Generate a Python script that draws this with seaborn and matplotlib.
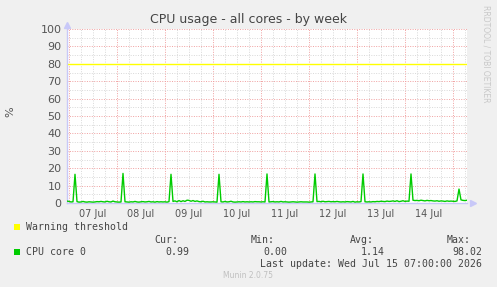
import numpy as np
import pandas as pd
import matplotlib
matplotlib.use("Agg")
import matplotlib.pyplot as plt
import matplotlib.dates as mdates
from matplotlib.ticker import MultipleLocator, FuncFormatter
from matplotlib.patches import Rectangle
import seaborn as sns

# ---------------- data ----------------
start_time = "2026-07-06 23:00"
end_time = "2026-07-15 07:00"
# hourly CPU usage (%) starting at start_time
cpu_core0 = [
    1.1, 0.9, 0.6, 0.7, 16.5, 0.8, 0.5, 0.6, 0.9, 0.6, 0.5, 0.7, 0.6, 0.5, 0.6, 0.8, 0.7, 0.9, 0.7, 0.6, 1.0, 0.7, 0.6, 1.1,
    0.7, 0.6, 0.5, 0.6, 17.0, 0.7, 0.6, 0.5, 0.7, 0.6, 0.9, 0.6, 0.5, 0.7, 0.8, 0.6, 0.7, 0.9, 0.6, 0.7, 0.5, 0.8, 0.6, 0.7,
    0.6, 0.7, 0.5, 0.8, 16.5, 0.9, 1.2, 0.7, 1.4, 0.8, 1.3, 0.9, 1.6, 1.5, 1.0, 1.4, 0.9, 1.2, 0.8, 0.7, 1.0, 0.6, 0.7, 0.6,
    0.6, 0.7, 0.6, 0.5, 16.5, 0.7, 0.6, 0.9, 0.6, 0.7, 1.0, 0.6, 0.5, 0.6, 0.7, 0.6, 0.8, 0.6, 0.7, 0.6, 0.7, 0.6, 0.8, 0.7,
    0.7, 0.6, 0.7, 0.6, 16.7, 0.6, 0.7, 0.8, 0.6, 0.7, 0.6, 0.9, 0.6, 0.7, 0.6, 0.5, 0.6, 0.7, 0.6, 0.5, 0.6, 0.7, 0.6, 0.6,
    0.6, 0.5, 0.6, 0.7, 16.7, 0.8, 0.9, 0.7, 1.0, 0.7, 0.8, 0.9, 0.7, 0.8, 0.7, 0.9, 0.7, 0.6, 0.7, 0.6, 0.8, 0.7, 0.6, 0.9,
    0.5, 0.7, 0.6, 0.8, 16.7, 0.7, 0.6, 0.7, 0.6, 0.8, 0.7, 0.9, 0.8, 1.0, 0.9, 0.8, 1.1, 0.9, 1.0, 1.2, 0.9, 1.3, 0.8, 1.0,
    1.3, 0.9, 1.1, 1.0, 16.7, 1.6, 1.4, 1.5, 1.3, 1.6, 1.4, 1.2, 1.5, 1.3, 1.4, 1.2, 1.1, 1.3, 1.0, 1.2, 1.1, 0.9, 1.2, 1.0,
    1.1, 1.0, 0.9, 1.2, 8.0, 1.8, 1.5, 1.4, 1.6,
]
warning_threshold = 80
y_ticks = [0, 10, 20, 30, 40, 50, 60, 70, 80, 90, 100]
title = "CPU usage - all cores - by week"
legend_labels = ["Warning threshold", "CPU core 0"]
stat_headers = ["Cur:", "Min:", "Avg:", "Max:"]
stat_values = ["0.99", "0.00", "1.14", "98.02"]
last_update = "Last update: Wed Jul 15 07:00:00 2026"

# ---------------- figure ----------------
W, H = 497, 287
BG = "#f0f0f0"
sns.set_style("white")
plt.rcParams["font.family"] = ["DejaVu Sans"]

fig = plt.figure(figsize=(W / 100, H / 100), dpi=100, facecolor=BG)
ax = fig.add_axes([67 / W, 84 / H, 400 / W, 174 / H])
ax.set_facecolor("white")

times = pd.date_range(start_time, periods=len(cpu_core0), freq="h")
df = pd.DataFrame({"time": times, "value": cpu_core0})

x0, x1 = pd.Timestamp(start_time), pd.Timestamp(end_time)
ax.set_xlim(x0, x1)
ax.set_ylim(0, 100)

# grid
ax.yaxis.set_major_locator(MultipleLocator(10))
ax.yaxis.set_minor_locator(MultipleLocator(5))
ax.set_yticks(y_ticks)
ax.xaxis.set_major_locator(mdates.DayLocator())
ax.xaxis.set_minor_locator(mdates.HourLocator(byhour=[6, 12, 18]))
ax.xaxis.set_major_formatter(FuncFormatter(lambda v, p: ""))

def minor_fmt(v, p):
    d = mdates.num2date(v)
    return d.strftime("%d %b") if d.hour == 12 else ""

ax.xaxis.set_minor_formatter(FuncFormatter(minor_fmt))
ax.grid(True, which="minor", color="#d8d8d8", linestyle=(0, (1, 1.5)), linewidth=0.7)
ax.grid(True, which="major", color="#f0a0a0", linestyle=(0, (1, 1.5)), linewidth=0.7)
ax.set_axisbelow(True)

ax.tick_params(axis="y", which="major", length=2, color="#aaaaaa", labelsize=8,
               labelcolor="#555555", pad=2)
ax.tick_params(axis="y", which="minor", length=0)
ax.tick_params(axis="x", which="both", length=0, labelsize=7, labelcolor="#555555", pad=4)

# threshold + data
ax.axhline(warning_threshold, color="#ffff00", linewidth=1.0, zorder=2)
sns.lineplot(data=df, x="time", y="value", ax=ax, color="#00cc00", linewidth=1.0, zorder=3)
ax.set_xlabel("")
ax.set_ylabel("")

for s in ["top", "right"]:
    ax.spines[s].set_visible(False)
for s in ["left", "bottom"]:
    ax.spines[s].set_color("#c8c8f8")
    ax.spines[s].set_linewidth(1.0)
ax.plot([0], [1.025], marker="^", color="#c8c8f8", markersize=4, transform=ax.transAxes, clip_on=False)
ax.plot([1.015], [0], marker=">", color="#c8c8f8", markersize=4, transform=ax.transAxes, clip_on=False)

# texts
def fx(x):
    return x / W

def fy(y):
    return 1 - y / H

fig.text(fx(248), fy(19), title, ha="center", va="center", fontsize=9, color="#444444")
fig.text(fx(10), fy(112), "%", ha="center", va="center", rotation=90, fontsize=8, color="#555555")
fig.text(fx(486), fy(5), "RRDTOOL / TOBI OETIKER", ha="center", va="top", rotation=270,
         fontsize=5.5, color="#c8c8c8")

mono = "DejaVu Sans Mono"
fs = 7.1
tc = "#444444"
fig.patches.append(Rectangle((fx(14), fy(230)), 6 / W, 6 / H, transform=fig.transFigure,
                             facecolor="#ffff00", edgecolor="none"))
fig.patches.append(Rectangle((fx(14), fy(255)), 6 / W, 6 / H, transform=fig.transFigure,
                             facecolor="#00cc00", edgecolor="none"))
fig.text(fx(26), fy(227), legend_labels[0], family=mono, fontsize=fs, color=tc, va="center")
fig.text(fx(26), fy(252), legend_labels[1], family=mono, fontsize=fs, color=tc, va="center")
head_x = [154, 251, 350, 447]
val_right = [189, 287, 385, 482]
for hx, h in zip(head_x, stat_headers):
    fig.text(fx(hx), fy(240), h, family=mono, fontsize=fs, color=tc, va="center")
for vx, v in zip(val_right, stat_values):
    fig.text(fx(vx), fy(252), v, family=mono, fontsize=fs, color=tc, va="center", ha="right")
fig.text(fx(482), fy(264), last_update, family=mono, fontsize=fs, color=tc, va="center", ha="right")
fig.text(fx(248), fy(276), "Munin 2.0.75", ha="center", va="center", fontsize=5.5, color="#c0c0c0")

fig.savefig("out.png", dpi=100, facecolor=BG)
